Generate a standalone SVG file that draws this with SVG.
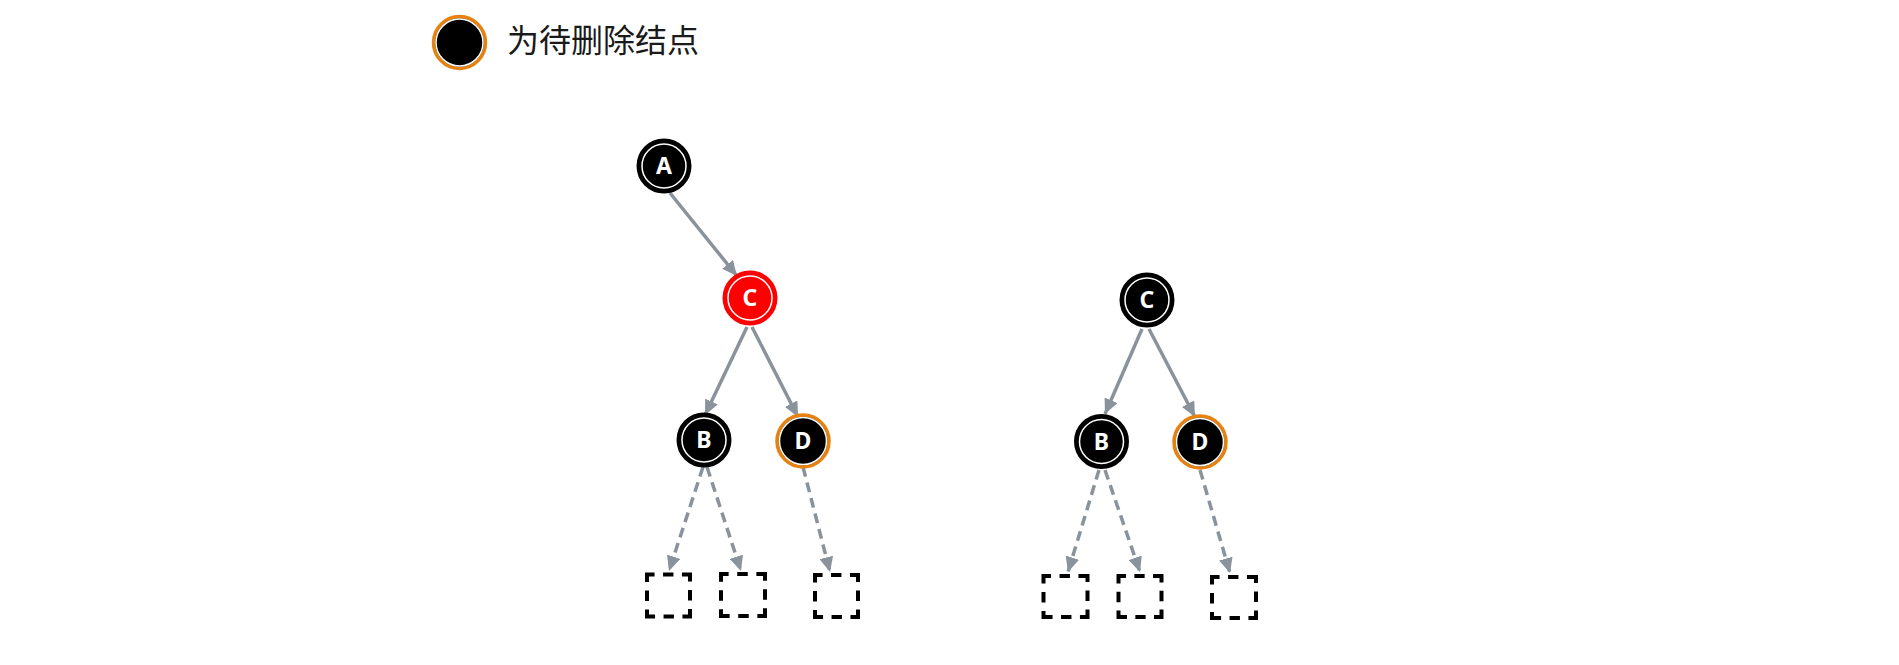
<svg xmlns="http://www.w3.org/2000/svg" width="1899" height="665" viewBox="0 0 1899 665">
<style>
.edge{fill:none;stroke:#8a939c;stroke-width:3.5;marker-end:url(#arr)}
.dash{stroke-dasharray:10 6}
.nb{fill:#000;stroke:#000;stroke-width:3}
.nr{fill:#ff0000;stroke:#ff0000;stroke-width:3}
.no{fill:#000;stroke:#e8820e;stroke-width:3.5}
.ring{fill:none;stroke:#fff;stroke-width:1.5}
.lbl{font-family:"Noto Sans","Open Sans","DejaVu Sans",sans-serif;font-weight:bold;font-size:23px;fill:#fff;text-anchor:middle}
.box{fill:none;stroke:#000;stroke-width:4;stroke-dasharray:16 9 11 9;stroke-dashoffset:8}
.legend{font-family:"Noto Sans CJK SC","Noto Sans",sans-serif;font-size:32px;fill:#1a1a1a}
</style>
<defs>
<marker id="arr" markerUnits="userSpaceOnUse" markerWidth="16" markerHeight="14" refX="15" refY="7" orient="auto">
<path d="M0,0 L15,7 L0,14 z" fill="#8a939c"/>
</marker>
</defs>
<rect width="1899" height="665" fill="#fff"/>
<g id="legend">
<circle cx="459.5" cy="42.5" r="26" class="no" stroke-width="4"/>
<circle cx="459.5" cy="42.5" r="23.5" class="ring"/>
<text x="507" y="52" class="legend">为待删除结点</text>
</g>
<g id="connectors">
<path class="edge" d="M670,193 L737,276"/>
<path class="edge" d="M747,327 L705,415"/>
<path class="edge" d="M752,327 L798,417"/>
<path class="edge dash" d="M703,467 L669,571"/>
<path class="edge dash" d="M707,467 L741,571"/>
<path class="edge dash" d="M803,467 L830,572"/>
<path class="edge" d="M1142,329 L1105,414"/>
<path class="edge" d="M1149,329 L1195,417"/>
<path class="edge dash" d="M1099,470 L1068,572"/>
<path class="edge dash" d="M1105,470 L1140,572"/>
<path class="edge dash" d="M1200,470 L1230,573"/>
</g>
<g id="nodeA"><circle cx="664" cy="166" r="26" class="nb"/><circle cx="664" cy="166" r="22" class="ring"/><text x="664" y="174" class="lbl">A</text></g>
<g id="nodeC1"><circle cx="750" cy="298" r="26" class="nr"/><circle cx="750" cy="298" r="22" class="ring"/><text x="750" y="306" class="lbl">C</text></g>
<g id="nodeB1"><circle cx="704" cy="440" r="26" class="nb"/><circle cx="704" cy="440" r="22" class="ring"/><text x="704" y="448" class="lbl">B</text></g>
<g id="nodeD1"><circle cx="803" cy="441" r="26" class="no"/><circle cx="803" cy="441" r="23.5" class="ring"/><text x="803" y="449" class="lbl">D</text></g>
<g id="nodeC2"><circle cx="1147" cy="300" r="26" class="nb"/><circle cx="1147" cy="300" r="22" class="ring"/><text x="1147" y="308" class="lbl">C</text></g>
<g id="nodeB2"><circle cx="1101.5" cy="441.5" r="26" class="nb"/><circle cx="1101.5" cy="441.5" r="22" class="ring"/><text x="1101.5" y="449.5" class="lbl">B</text></g>
<g id="nodeD2"><circle cx="1200" cy="442" r="26" class="no"/><circle cx="1200" cy="442" r="23.5" class="ring"/><text x="1200" y="450" class="lbl">D</text></g>
<g id="nil1"><rect x="647" y="574.5" width="43" height="42" pathLength="180" class="box"/></g>
<g id="nil2"><rect x="721" y="574" width="44" height="42" pathLength="180" class="box"/></g>
<g id="nil3"><rect x="815" y="575" width="43" height="42" pathLength="180" class="box"/></g>
<g id="nil4"><rect x="1043.5" y="576" width="44" height="41" pathLength="180" class="box"/></g>
<g id="nil5"><rect x="1118.5" y="576" width="43" height="41" pathLength="180" class="box"/></g>
<g id="nil6"><rect x="1212" y="577" width="44" height="41" pathLength="180" class="box"/></g>
</svg>
